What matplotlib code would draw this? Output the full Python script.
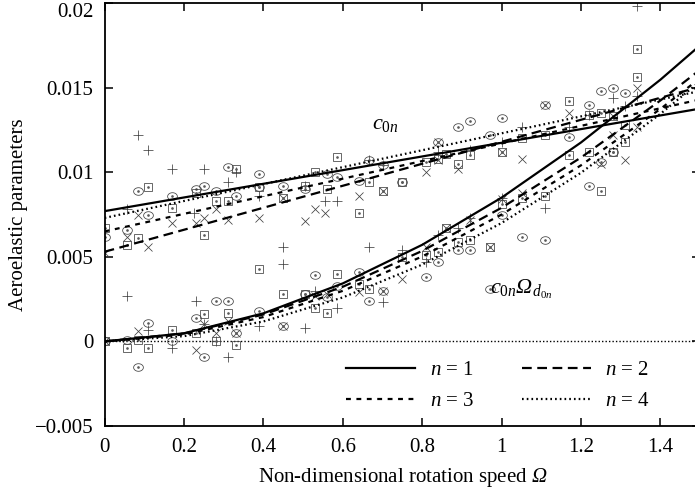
import numpy as np
import matplotlib
matplotlib.use("Agg")
import matplotlib.pyplot as plt
from matplotlib.lines import Line2D
from matplotlib.ticker import FuncFormatter

plt.rcParams["font.family"] = ["Liberation Serif", "DejaVu Serif"]
plt.rcParams["mathtext.fontset"] = "custom"
plt.rcParams["mathtext.rm"] = "Liberation Serif"
plt.rcParams["mathtext.it"] = "Liberation Serif:italic"
plt.rcParams["mathtext.cal"] = "Liberation Serif:italic"  # italic capital Omega
plt.rcParams["lines.scale_dashes"] = False

# measured points (Omega, value), one list per gnuplot symbol
plus_pts = [
    (0, 0), (0.056, 0.0027), (0.11, 0.0007), (0.17, -0.0004), (0.23, 0.0024), (0.25, 0.001),
    (0.28, 0.0), (0.31, -0.0009), (0.39, 0.0009), (0.45, 0.0056), (0.45, 0.0046), (0.505, 0.0008),
    (0.53, 0.003), (0.585, 0.002), (0.70, 0.0023), (0.665, 0.0056), (0.75, 0.0054), (0.81, 0.0047),
    (0.84, 0.0063), (0.89, 0.0067), (0.92, 0.0073), (1.0, 0.0085), (1.11, 0.0079), (1.34, 0.0198),
    (1.34, 0.0145), (1.28, 0.0144), (1.31, 0.0139),
    (0.085, 0.0122), (0.11, 0.0113), (0.17, 0.0102), (0.25, 0.0102), (0.33, 0.0100), (0.31, 0.0094),
    (0.225, 0.0076), (0.056, 0.0078), (0.39, 0.0086), (0.505, 0.0092), (0.555, 0.0083), (0.585, 0.0083),
    (0.665, 0.0107), (0.84, 0.0112), (0.92, 0.0113), (1.0, 0.0118), (1.05, 0.0127), (1.17, 0.0127),
    (1.22, 0.0134), (0.70, 0.0104),
]
cross_pts = [
    (0, 0), (0.085, 0.0006), (0.23, -0.0005), (0.25, 0.001), (0.28, 0.0005), (0.31, 0.0012),
    (0.33, 0.0005), (0.45, 0.0009), (0.53, 0.0027), (0.56, 0.0028), (0.64, 0.0029), (0.75, 0.0037),
    (0.81, 0.0056), (0.86, 0.0067), (0.92, 0.0072), (0.97, 0.0056), (1.0, 0.0084), (1.05, 0.0088),
    (1.25, 0.0105), (1.31, 0.0107), (1.28, 0.0122), (1.34, 0.015), (1.34, 0.0127), (0.70, 0.003),
    (0, 0.0052), (0.056, 0.0062), (0.085, 0.0075), (0.11, 0.0056), (0.17, 0.0070), (0.23, 0.0070),
    (0.25, 0.0073), (0.28, 0.0078), (0.31, 0.0072), (0.39, 0.0073), (0.45, 0.0085), (0.505, 0.0071),
    (0.53, 0.0078), (0.555, 0.0076), (0.64, 0.0086), (0.70, 0.0089), (0.81, 0.0100), (0.84, 0.0107),
    (0.89, 0.0102), (1.05, 0.0108), (1.17, 0.0135), (1.28, 0.0133), (1.0, 0.0112), (1.11, 0.014),
    (0.84, 0.0118),
]
circle_pts = [
    (0, 0), (0.056, 0.0001), (0.085, -0.0015), (0.11, 0.0011), (0.17, 0.0), (0.23, 0.0014),
    (0.25, -0.0009), (0.28, 0.0024), (0.31, 0.0024), (0.33, 0.0005), (0.39, 0.0018), (0.45, 0.0009),
    (0.53, 0.0039), (0.505, 0.0028), (0.585, 0.0033), (0.56, 0.0026), (0.64, 0.0041), (0.665, 0.0024),
    (0.70, 0.003), (0.81, 0.0038), (0.84, 0.0047), (0.89, 0.0054), (0.92, 0.0054), (0.97, 0.0031),
    (1.0, 0.0075), (1.05, 0.0062), (1.11, 0.006), (1.22, 0.0092), (1.25, 0.0106), (1.25, 0.0148),
    (1.28, 0.015), (1.31, 0.0147),
    (0, 0.0062), (0.056, 0.0066), (0.085, 0.0089), (0.11, 0.0075), (0.17, 0.0086), (0.23, 0.009),
    (0.25, 0.0092), (0.28, 0.0089), (0.31, 0.0103), (0.33, 0.0086), (0.39, 0.0099), (0.39, 0.0091),
    (0.45, 0.0092), (0.505, 0.009), (0.56, 0.0099), (0.585, 0.0097), (0.64, 0.0095), (0.665, 0.0107),
    (0.70, 0.0104), (0.75, 0.0094), (0.84, 0.0118), (0.89, 0.0127), (0.92, 0.013), (0.97, 0.0122),
    (1.0, 0.0132), (1.11, 0.014), (1.17, 0.0121), (1.22, 0.014), (1.28, 0.0112),
]
square_pts = [
    (0, 0), (0.056, -0.0004), (0.085, 0.0001), (0.11, -0.0004), (0.17, 0.00065), (0.23, 0.0005),
    (0.25, 0.0016), (0.28, 0.0), (0.31, 0.0017), (0.33, -0.0002), (0.39, 0.0043), (0.45, 0.0028),
    (0.505, 0.0028), (0.53, 0.002), (0.56, 0.0017), (0.585, 0.004), (0.64, 0.0034), (0.665, 0.0031),
    (0.75, 0.005), (0.81, 0.0051), (0.84, 0.0053), (0.86, 0.0067), (0.89, 0.0059), (0.92, 0.006),
    (0.97, 0.0056), (1.0, 0.0081), (1.05, 0.0085), (1.11, 0.0086), (1.17, 0.011), (1.22, 0.0112),
    (1.25, 0.0089), (1.28, 0.0112), (1.31, 0.0118), (1.34, 0.0173), (1.34, 0.0156),
    (0, 0.0067), (0.056, 0.0057), (0.085, 0.0061), (0.11, 0.0091), (0.17, 0.0079), (0.23, 0.0088),
    (0.25, 0.0063), (0.28, 0.0083), (0.31, 0.0083), (0.33, 0.0102), (0.39, 0.0091), (0.45, 0.0085),
    (0.505, 0.0092), (0.53, 0.010), (0.56, 0.009), (0.585, 0.0109), (0.64, 0.0076), (0.665, 0.0094),
    (0.70, 0.0089), (0.75, 0.0094), (0.81, 0.0106), (0.84, 0.0108), (0.86, 0.0111), (0.89, 0.0105),
    (0.92, 0.011), (1.0, 0.0112), (1.05, 0.012), (1.11, 0.0122), (1.17, 0.0142), (1.22, 0.0134),
    (1.25, 0.0135), (1.28, 0.0133), (1.31, 0.0128),
]

# fitted c0n lines (straight), read at the two ends
line_omega = [0.0, 1.5]
c0n_n1 = [0.0077, 0.01376]
c0n_n2 = [0.0053, 0.01505]
c0n_n3 = [0.0065, 0.0143]
c0n_n4 = [0.0073, 0.0148]

# fitted c0n*Omega^d0n curves
curve_omega = [0.0, 0.2, 0.4, 0.6, 0.8, 1.0, 1.2, 1.4, 1.5]
cod_n1 = [0.0, 0.00048, 0.00166, 0.00343, 0.00571, 0.0085, 0.01176, 0.01547, 0.0175]
cod_n2 = [0.0, 0.00047, 0.00159, 0.00323, 0.00535, 0.0079, 0.01087, 0.01424, 0.01606]
cod_n3 = [0.0, 0.00041, 0.00144, 0.00299, 0.00502, 0.0075, 0.01041, 0.01374, 0.01556]
cod_n4 = [0.0, 0.00031, 0.00118, 0.0026, 0.00454, 0.0070, 0.00997, 0.01345, 0.01537]

labels = ["$n$ = 1", "$n$ = 2", "$n$ = 3", "$n$ = 4"]
styles = [
    dict(ls="-"),
    dict(ls=(0, (7, 4))),
    dict(ls=(0, (3.5, 4))),
    dict(ls=(0, (1.2, 2.2))),
]

fig = plt.figure(figsize=(6.95, 4.95), dpi=100)
ax = fig.add_axes([0.1506, 0.1394, 0.8568, 0.8545])

ax.axhline(0, color="black", lw=1.0, ls=(0, (1, 1.5)), zorder=1)

t = np.linspace(0, 2 * np.pi, 41)
ellipse = np.column_stack([np.cos(t), 0.78 * np.sin(t)])

mk = dict(ls="none", mfc="none", mec="0.25", mew=0.55, zorder=2)
for pts, marker, ms, dot in [
    (plus_pts, "+", 7, False),
    (cross_pts, "x", 6, False),
    (circle_pts, ellipse, 7, True),
    (square_pts, "s", 6.2, True),
]:
    xs, ys = zip(*pts)
    ax.plot(xs, ys, marker=marker, ms=ms, **mk)
    if dot:
        ax.plot(xs, ys, ls="none", marker="o", ms=0.9, color="0.35", zorder=2)

for yl, yc, st in zip([c0n_n1, c0n_n2, c0n_n3, c0n_n4],
                      [cod_n1, cod_n2, cod_n3, cod_n4], styles):
    ax.plot(line_omega, yl, color="black", lw=1.6, zorder=3, **st)
    ax.plot(curve_omega, yc, color="black", lw=1.6, zorder=3, **st)

ax.set_xlim(0, 1.5)
ax.set_ylim(-0.005, 0.02)
ax.set_xticks(np.arange(0, 1.41, 0.2))
ax.set_yticks([-0.005, 0, 0.005, 0.01, 0.015, 0.02])
fmt = FuncFormatter(lambda v, p: ("%g" % round(v, 4)).replace("-", "\u2212"))
ax.xaxis.set_major_formatter(fmt)
ax.yaxis.set_major_formatter(fmt)
ax.tick_params(direction="in", length=6, width=1.1, labelsize=15,
               top=True, right=True)
ax.tick_params(axis="y", pad=8)
ax.tick_params(axis="x", pad=9)
for s in ax.spines.values():
    s.set_linewidth(1.3)
fig.canvas.draw()
ax.get_yticklabels()[-1].set_verticalalignment("top")

ax.set_xlabel("Non-dimensional rotation speed $\\mathcal{\\Omega}$", fontsize=15, labelpad=6)
ax.set_ylabel("Aeroelastic parameters", fontsize=15, labelpad=5)

ax.text(0.706, 0.0128, "$c_{0n}$", fontsize=16, ha="center", va="center")
ax.text(1.05, 0.0031, "$c_{0n}\\mathcal{\\Omega}_{d_{0n}}$", fontsize=16, ha="center", va="center")

handles = [Line2D([], [], color="black", lw=1.6, **st) for st in styles]
order = [0, 2, 1, 3]
ax.legend([handles[i] for i in order], [labels[i] for i in order], ncol=2,
          loc="center", bbox_to_anchor=(0.661, 0.095), frameon=False,
          fontsize=15, handlelength=3.3, handletextpad=0.7,
          columnspacing=2.3, labelspacing=0.55)

fig.savefig("out.png", dpi=100)
